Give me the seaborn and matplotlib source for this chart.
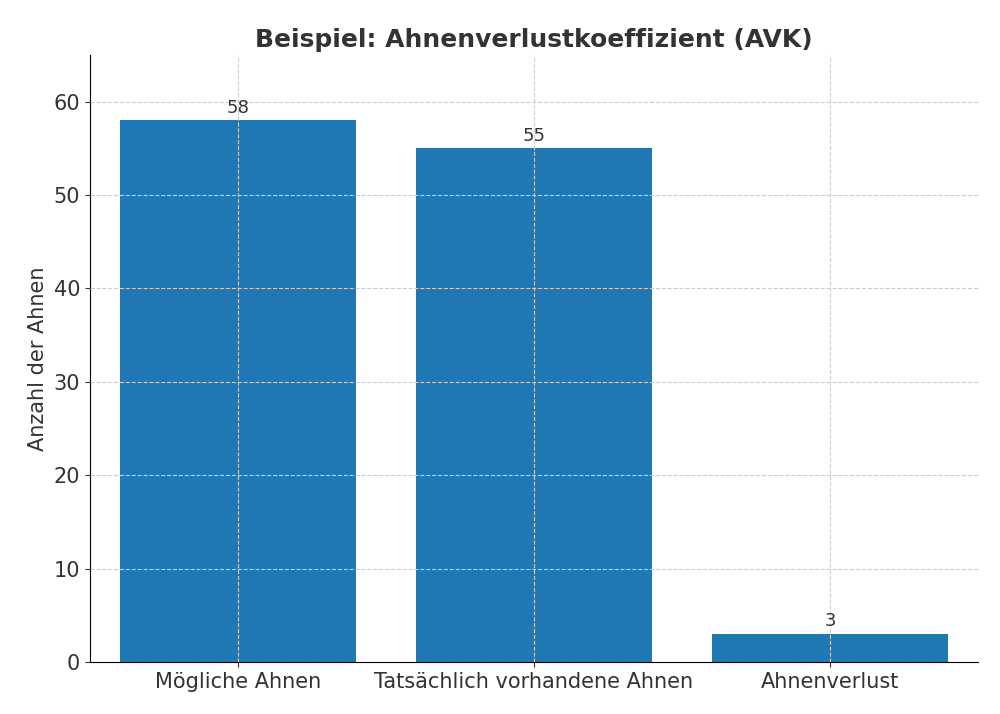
import matplotlib
matplotlib.use("Agg")
import matplotlib.pyplot as plt
import seaborn as sns
import pandas as pd

categories = ["Mögliche Ahnen", "Tatsächlich vorhandene Ahnen", "Ahnenverlust"]
values = [58, 55, 3]

df = pd.DataFrame({"cat": categories, "val": values})
fig, ax = plt.subplots(figsize=(10, 7.14), dpi=100)
fig.subplots_adjust(left=0.09, right=0.978, top=0.923, bottom=0.073)
sns.barplot(data=df, x="cat", y="val", color="#1f77b4", saturation=1, width=0.8, ax=ax)
for i, v in enumerate(values):
    ax.text(i, v + 0.4, str(v), ha="center", va="bottom", fontsize=13, color="#333333")
ax.set_ylim(0, 65)
ax.set_xlabel("")
ax.set_ylabel("Anzahl der Ahnen", fontsize=15, color="#333333")
ax.set_title("Beispiel: Ahnenverlustkoeffizient (AVK)", fontsize=18, fontweight="bold", color="#333333")
ax.tick_params(labelsize=15, colors="#333333")
ax.set_axisbelow(False)
ax.grid(True, linestyle="--", color="#cccccc", linewidth=0.8)
sns.despine(ax=ax)
fig.savefig("out.png", dpi=100)
